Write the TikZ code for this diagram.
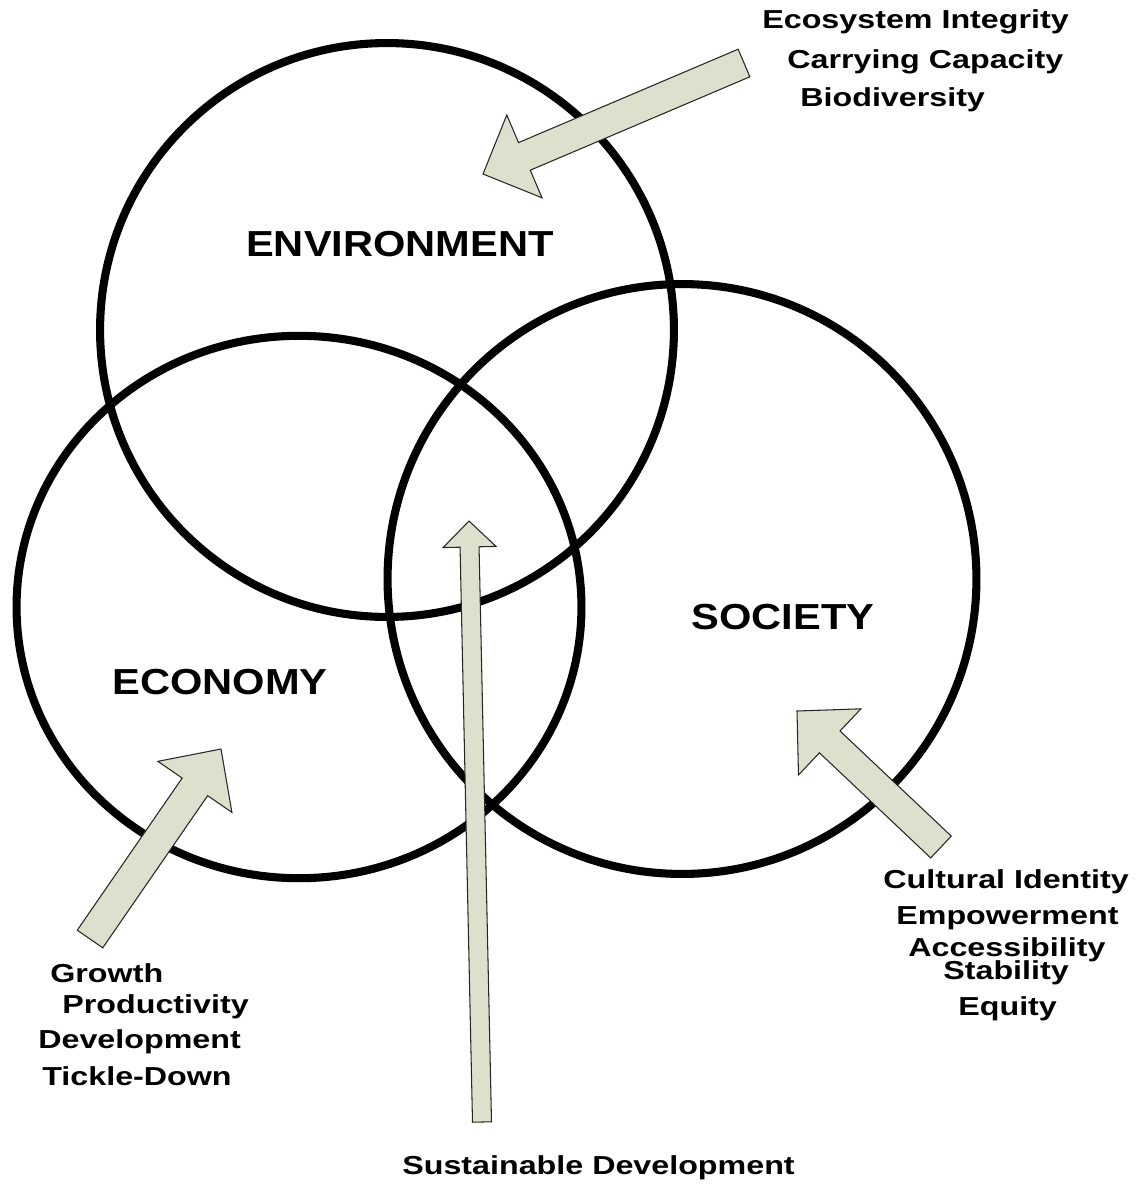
\documentclass[tikz,border=0pt]{standalone}
\usepackage{fontspec}
\setmainfont{Liberation Sans}
\newfontfamily\bigfont[FakeStretch=1.15]{Liberation Sans}
\newfontfamily\smallfont[FakeStretch=1.24]{Liberation Sans}
\usetikzlibrary{calc,shapes.geometric}
\definecolor{arrowfill}{RGB}{221,224,204}

% block arrow: from, to, half shaft, half head, head length
\newcommand{\blockarrow}[5]{%
  \coordinate (hb) at ($(#2)!#5!(#1)$);
  \draw[arrowbox] ($(#1)!#3!90:(#2)$) -- ($(hb)!#3!90:(#2)$) -- ($(hb)!#4!90:(#2)$)
    -- (#2) -- ($(hb)!#4!-90:(#2)$) -- ($(hb)!#3!-90:(#2)$) -- ($(#1)!#3!-90:(#2)$) -- cycle;
}

\begin{document}
\begin{tikzpicture}[x=0.02cm, y=-0.02cm,
  ring/.style={draw, ellipse, line width=4.6pt, inner sep=0pt},
  arrowbox/.style={draw=black!85, fill=arrowfill, line width=0.6pt, line join=miter},
  big/.style={font=\bigfont\fontsize{20.6}{24}\selectfont\bfseries},
  small/.style={font=\smallfont\fontsize{14.8}{17}\selectfont\bfseries, anchor=west, inner sep=0pt}]

  \useasboundingbox (0,0) rectangle (1140,1187);

  \node[ring, minimum width=11.48cm, minimum height=11.48cm] (env) at (387,330) {};
  \node[ring, minimum width=11.3cm, minimum height=10.85cm] (eco) at (299,607) {};
  \node[ring, minimum width=11.78cm, minimum height=11.8cm] (soc) at (682,579) {};

  \node[big] (envlabel) at (400,244) {ENVIRONMENT};
  \node[big] (ecolabel) at (220,682) {ECONOMY};
  \node[big] (soclabel) at (783,617) {SOCIETY};

  % arrows
  \coordinate (envtail) at (744,63);
  \coordinate (envtip) at (483,174);
  \blockarrow{envtail}{envtip}{0.3cm}{0.9cm}{0.9cm}

  \coordinate (ecotail) at (90,939);
  \coordinate (ecotip) at (221,749);
  \blockarrow{ecotail}{ecotip}{0.31cm}{0.9cm}{0.92cm}

  \coordinate (soctail) at (941,847);
  \coordinate (soctip) at (797,711);
  \blockarrow{soctail}{soctip}{0.3cm}{0.91cm}{0.9cm}

  \coordinate (sustail) at (482,1122);
  \coordinate (sustip) at (469,521);
  \blockarrow{sustail}{sustip}{0.19cm}{0.53cm}{0.52cm}

  % environment
  \node[small] (eco1) at (762,22) {Ecosystem Integrity};
  \node[small] (eco2) at (787,62) {Carrying Capacity};
  \node[small] (eco3) at (800,100) {Biodiversity};

  % economy
  \node[small] (ec1) at (50,973) {Growth};
  \node[small] (ec2) at (62,1007) {Productivity};
  \node[small] (ec3) at (38,1042) {Development};
  \node[small] (ec4) at (42,1076) {Tickle-Down};

  % society
  \node[small] (so1) at (883,882) {Cultural Identity};
  \node[small] (so2) at (896,918) {Empowerment};
  \node[small] (so3) at (908,950) {Accessibility};
  \node[small] (so4) at (943,973) {Stability};
  \node[small] (so5) at (958,1009) {Equity};

  \node[small] (sus) at (402,1168) {Sustainable Development};

\end{tikzpicture}
\end{document}
